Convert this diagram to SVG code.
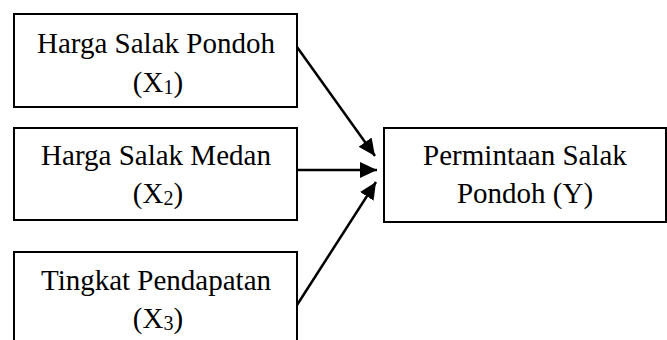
<svg xmlns="http://www.w3.org/2000/svg" width="667" height="340" viewBox="0 0 667 340">
  <style>
    .box { fill: #ffffff; stroke: #000000; stroke-width: 2; }
    .lbl { font-family: "Liberation Serif", "Times New Roman", serif; font-size: 29px; fill: #000000; text-anchor: middle; }
    .sub { font-size: 20px; }
    .edge { stroke: #000000; stroke-width: 2.5; fill: none; marker-end: url(#arrow); }
  </style>
  <defs>
    <marker id="arrow" markerUnits="userSpaceOnUse" markerWidth="18" markerHeight="16" refX="17" refY="8" orient="auto">
      <path d="M0,0 L17,8 L0,16 Z" fill="#000000"/>
    </marker>
  </defs>
  <rect width="667" height="340" fill="#ffffff"/>

  <g id="x1">
    <rect class="box" x="14" y="14" width="283" height="93"/>
    <text class="lbl" x="156" y="53">Harga Salak Pondoh</text>
    <text class="lbl" x="158" y="92">(X<tspan class="sub" dy="2">1</tspan><tspan dy="-2">)</tspan></text>
  </g>

  <g id="x2">
    <rect class="box" x="14" y="128" width="283" height="92"/>
    <text class="lbl" x="156" y="165">Harga Salak Medan</text>
    <text class="lbl" x="158" y="203">(X<tspan class="sub" dy="2">2</tspan><tspan dy="-2">)</tspan></text>
  </g>

  <g id="x3">
    <rect class="box" x="14" y="252" width="283" height="100"/>
    <text class="lbl" x="156" y="290">Tingkat Pendapatan</text>
    <text class="lbl" x="158" y="328">(X<tspan class="sub" dy="2">3</tspan><tspan dy="-2">)</tspan></text>
  </g>

  <g id="y">
    <rect class="box" x="384" y="128" width="282" height="94"/>
    <text class="lbl" x="525" y="165">Permintaan Salak</text>
    <text class="lbl" x="525" y="203">Pondoh (Y)</text>
  </g>

  <g id="connectors">
    <line class="edge" x1="297" y1="47" x2="375" y2="156"/>
    <line class="edge" x1="297" y1="170" x2="377" y2="170"/>
    <line class="edge" x1="297" y1="305" x2="376" y2="182"/>
  </g>
</svg>
